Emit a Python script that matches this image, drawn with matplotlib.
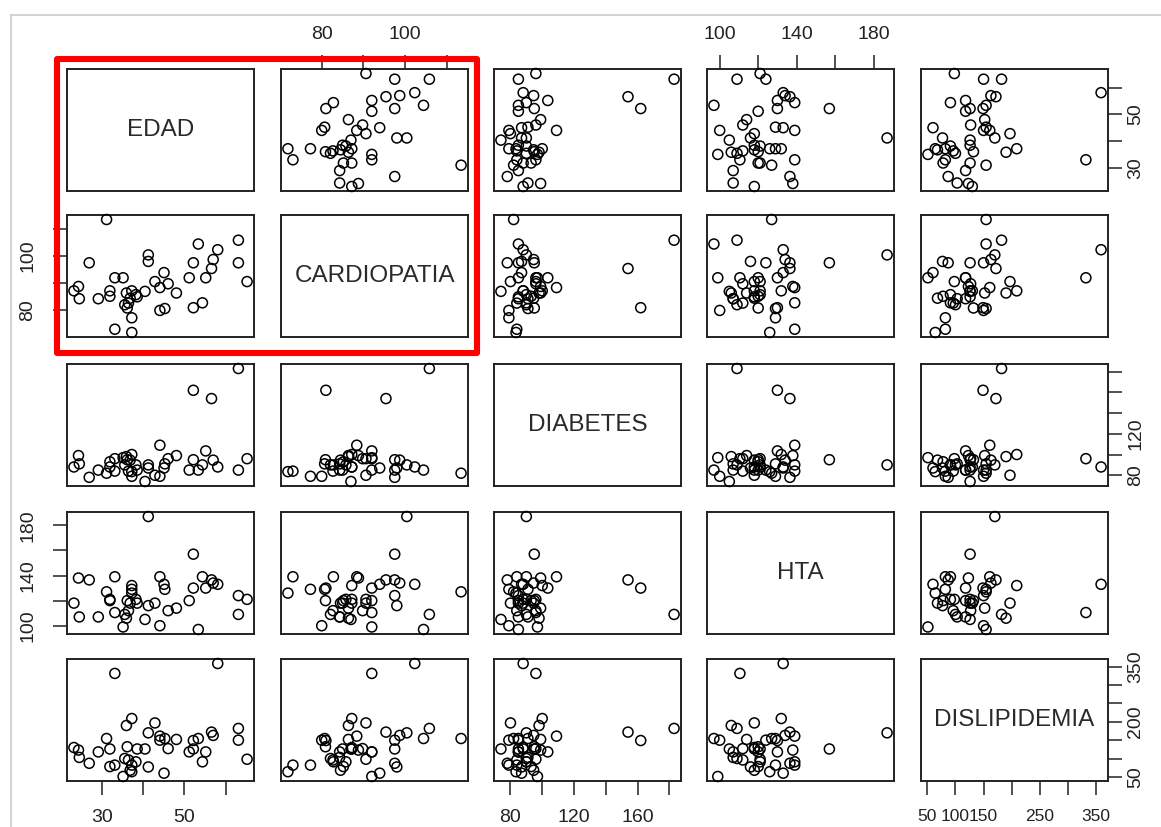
import numpy as np
import matplotlib
matplotlib.use("Agg")
import matplotlib.pyplot as plt
from matplotlib.patches import Rectangle
from matplotlib.lines import Line2D

plt.rcParams['font.family'] = ['Liberation Sans', 'DejaVu Sans']

# Data (one entry per patient)
edad = [23.3, 24.4, 24.6, 27.0, 29.2, 31.2, 32.0, 32.0, 33.2, 33.2, 35.2, 35.6, 36.0, 36.2,
        36.5, 36.9, 37.3, 37.3, 37.3, 38.3, 38.6, 40.5, 41.3, 41.3, 42.9, 44.1, 44.1, 45.1,
        45.3, 46.1, 48.1, 51.2, 52.2, 52.2, 53.4, 54.4, 55.2, 56.6, 57.0, 58.1, 63.1, 63.1, 65.2]
cardiopatia = [87.2, 88.8, 84.3, 97.5, 84.3, 113.4, 87.2, 85.2, 92.0, 73.1, 92.0, 82.1, 86.4, 80.9,
               82.7, 84.5, 87.2, 77.3, 71.9, 85.8, 85.0, 87.0, 100.4, 98.0, 90.6, 88.4, 80.0, 93.9,
               80.7, 89.8, 86.4, 92.0, 97.5, 81.0, 104.4, 82.8, 92.0, 95.4, 98.7, 102.3, 105.8, 97.5, 90.6]
diabetes = [88, 99, 91, 78, 85, 82, 88, 93, 96, 84, 97, 90, 98, 95,
            84, 94.6, 100, 79, 83.5, 90, 85, 74, 90, 87, 80, 109, 79, 87,
            91, 96, 99, 85, 95, 162, 85, 90, 103.5, 154, 94.6, 88, 183, 85, 96]
hta = [118, 138, 107, 136.5, 107, 127, 121, 120, 110.5, 139, 99, 109, 106, 120,
       112, 118, 132, 129, 126, 121, 118, 105, 187, 116, 118, 139, 100, 133,
       129, 112, 114, 120, 157, 130, 97, 139, 130, 136.5, 134, 133, 109, 124, 121]
dislipidemia = [130, 123, 103, 87, 118, 154.5, 126, 78, 332, 82, 51, 100, 190, 132,
                96, 68, 209, 82, 64, 91, 126, 126, 170, 77, 197, 161, 150, 60,
                154.5, 127, 152, 118, 126, 149, 154.5, 91, 118, 172, 163, 359, 182, 150, 98]

names = ["EDAD", "CARDIOPATIA", "DIABETES", "HTA", "DISLIPIDEMIA"]
series = [edad, cardiopatia, diabetes, hta, dislipidemia]

# tick positions and the labels R actually printed
ticks = [[30, 40, 50, 60],
         [80, 90, 100, 110],
         [80, 100, 120, 140, 160, 180],
         [100, 120, 140, 160, 180],
         [50, 100, 150, 200, 250, 300, 350]]
shown_x = [[30, 50], [80, 100], [80, 120, 160], [100, 140, 180], [50, 100, 150, 250, 350]]
shown_y = [[30, 50], [80, 100], [80, 120], [100, 140, 180], [50, 200, 350]]

W, H = 1161, 827
col_left = [67, 281, 494, 707, 921]
row_top = [69, 215, 364, 512, 659]
pw, ph = 187, 122
ink = "#222222"

fig = plt.figure(figsize=(W / 100, H / 100), dpi=100)


def lims(v):
    lo, hi = min(v), max(v)
    pad = 0.04 * (hi - lo)
    return lo - pad, hi + pad


def labs(tk, shown):
    return [str(t) if t in shown else "" for t in tk]


for i in range(5):
    for j in range(5):
        ax = fig.add_axes([col_left[j] / W, 1 - (row_top[i] + ph) / H, pw / W, ph / H])
        for s in ax.spines.values():
            s.set_linewidth(1.4)
            s.set_color(ink)
        ax.set_xticks([])
        ax.set_yticks([])
        ax.tick_params(length=10, width=1.1, color=ink, labelcolor=ink, labelsize=14)

        if i == j:
            ax.text(0.5, 0.5, names[i], transform=ax.transAxes, ha="center", va="center",
                    fontsize=17.5, color="#2a2a2a")
        else:
            ax.scatter(series[j], series[i], s=52, facecolors="none", edgecolors="black",
                       linewidths=1.1, clip_on=False, zorder=3)

        # R pairs() alternating axes
        if i == 0 and j % 2 == 1:
            ax.xaxis.set_ticks_position("top")
            ax.set_xticks(ticks[j])
            ax.set_xticklabels(labs(ticks[j], shown_x[j]))
            ax.tick_params(axis="x", pad=9)
        if i == 4 and j % 2 == 0:
            ax.set_xticks(ticks[j])
            ax.set_xticklabels(labs(ticks[j], shown_x[j]))
            # the dense DISLIPIDEMIA axis needs smaller digits to stay apart
            ax.tick_params(axis="x", pad=10, labelsize=12.5 if j == 4 else 14)
        if j == 0 and i % 2 == 1:
            ax.set_yticks(ticks[i])
            ax.set_yticklabels(labs(ticks[i], shown_y[i]), rotation=90, va="center")
            ax.tick_params(axis="y", pad=12)
        if j == 4 and i % 2 == 0:
            ax.yaxis.set_ticks_position("right")
            ax.set_yticks(ticks[i])
            ax.set_yticklabels(labs(ticks[i], shown_y[i]), rotation=90, va="center")
            ax.tick_params(axis="y", pad=4)

        ax.set_xlim(*lims(series[j]))
        ax.set_ylim(*lims(series[i]))

# screenshot frame
fig.add_artist(Line2D([11 / W, 1], [1 - 15 / H, 1 - 15 / H], transform=fig.transFigure,
                      color="#d4d4d4", lw=1.5))
fig.add_artist(Line2D([11 / W, 11 / W], [0, 1 - 15 / H], transform=fig.transFigure,
                      color="#d4d4d4", lw=1.5))

# red highlight box
x0, x1, y0, y1 = 56.5, 477, 59.5, 353.5
fig.add_artist(Rectangle((x0 / W, 1 - y1 / H), (x1 - x0) / W, (y1 - y0) / H,
                         transform=fig.transFigure, fill=False, edgecolor="#ff0000",
                         lw=4.4, joinstyle="round", zorder=10))

fig.savefig("out.png", dpi=100)
